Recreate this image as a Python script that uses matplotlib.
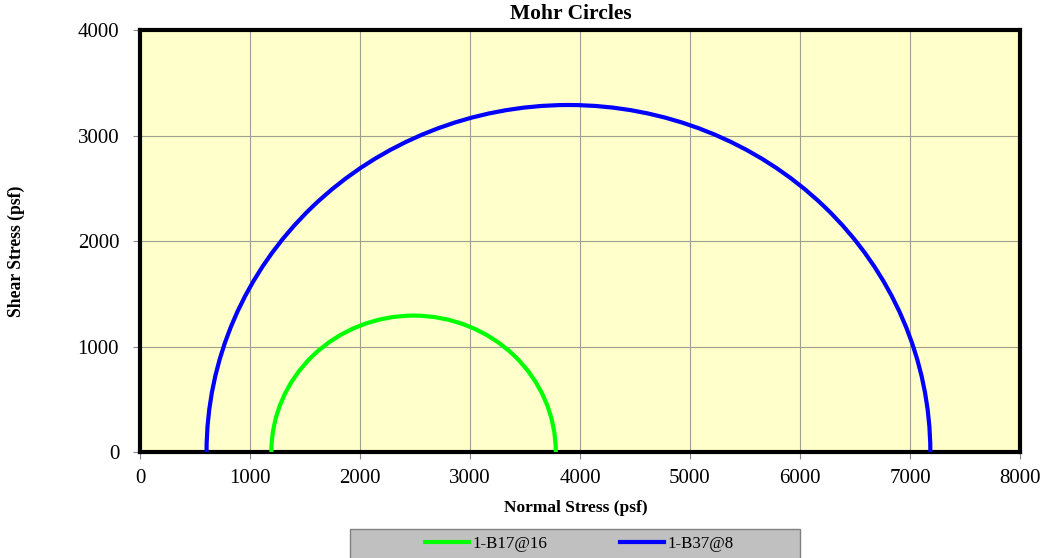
import matplotlib
matplotlib.use('Agg')
import matplotlib.pyplot as plt
from matplotlib.patches import Arc, Rectangle
from matplotlib.lines import Line2D

plt.rcParams['font.family'] = ['Liberation Serif', 'DejaVu Serif']

# Mohr circle data: center and radius (psf)
labels = ['1-B17@16', '1-B37@8']
centers = [2487, 3895]
radii = [1293, 3290]
colors = ['#00ff00', '#0000ff']

xticks = [0, 1000, 2000, 3000, 4000, 5000, 6000, 7000, 8000]
yticks = [0, 1000, 2000, 3000, 4000]

fig = plt.figure(figsize=(10.44, 5.58), dpi=100)
ax = fig.add_axes([0.1341, 0.19, 0.8429, 0.756])
ax.set_facecolor('#ffffcc')

for c, r, col in zip(centers, radii, colors):
    ax.add_patch(Arc((c, 0), 2 * r, 2 * r, theta1=0, theta2=180,
                     color=col, lw=3, zorder=3))

ax.set_xlim(0, 8000)
ax.set_ylim(0, 4000)
ax.set_xticks(xticks)
ax.set_yticks(yticks)
ax.grid(True, color='#a0a090', lw=0.8)
ax.set_axisbelow(True)
for s in ax.spines.values():
    s.set_linewidth(3)
    s.set_color('black')
ax.tick_params(direction='out', length=5, width=0.8, color='#888888',
               labelsize=15)
ax.tick_params(axis='y', pad=10)
ax.tick_params(axis='x', pad=7)

fig.text(0.547, 0.992, 'Mohr Circles', fontsize=15.5, fontweight='bold',
         ha='center', va='top')
fig.text(0.552, 0.09, 'Normal Stress (psf)', fontsize=12.5, fontweight='bold',
         ha='center', va='center')
fig.text(0.016, 0.55, 'Shear Stress (psf)', rotation=90, fontsize=12.7,
         fontweight='bold', ha='center', va='center')

# legend box
fig.patches.append(Rectangle((350 / 1044, -0.01), 450 / 1044, 0.062,
                             transform=fig.transFigure, facecolor='#c0c0c0',
                             edgecolor='#808080', lw=1))
handles = [Line2D([], [], color=col, lw=3) for col in colors]
leg = fig.legend(handles, labels, loc='center', bbox_to_anchor=(0.555, 0.025),
                 ncol=2, frameon=False, fontsize=12.2,
                 handlelength=2.6, handletextpad=0.2, columnspacing=4.3)

fig.savefig('out.png', dpi=100)
